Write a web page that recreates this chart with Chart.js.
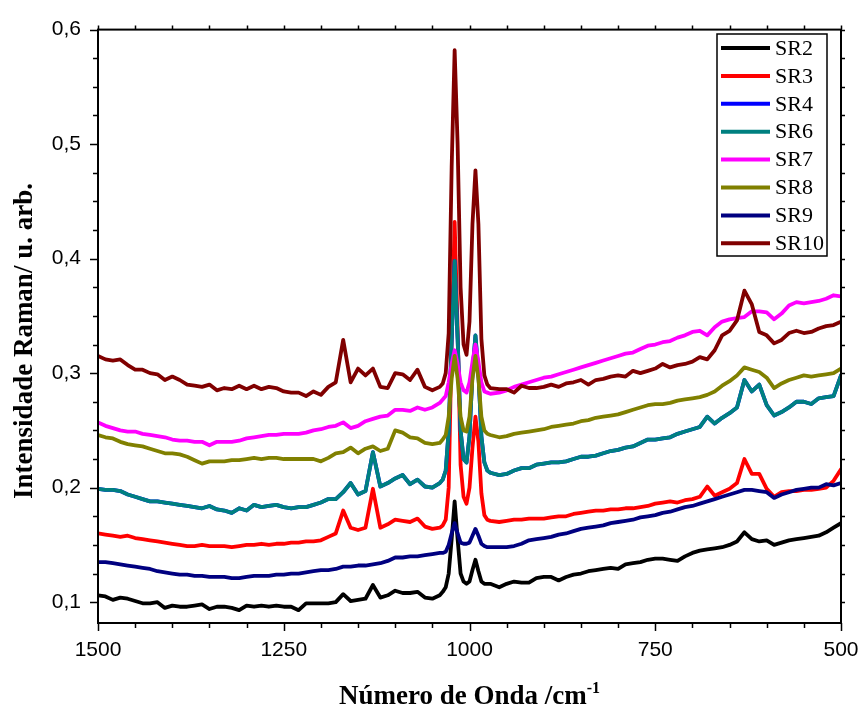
<!DOCTYPE html>
<html>
<head>
<meta charset="utf-8">
<script src="https://cdn.jsdelivr.net/npm/chart.js@4.4.1/dist/chart.umd.min.js"></script>
<style>
  html, body { margin: 0; padding: 0; background: #fff; }
</style>
</head>
<body>
<canvas id="ramanChart" width="861" height="713"></canvas>
<script>
// Raman shift axis (cm-1), finer step around the 1020 / 992 bands
const wavenumbers = [
  1500, 1490, 1480, 1470, 1460, 1450, 1440, 1430, 1420, 1410,
  1400, 1390, 1380, 1370, 1360, 1350, 1340, 1330, 1320, 1310,
  1300, 1290, 1280, 1270, 1260, 1250, 1240, 1230, 1220, 1210,
  1200, 1190, 1180, 1170, 1160, 1150, 1140, 1130, 1120, 1110,
  1100, 1090, 1080, 1070, 1060, 1050, 1040,
  1036, 1032, 1028, 1024, 1020, 1016, 1012, 1008, 1004, 1000, 996, 992, 988, 984, 980, 976, 972,
  960, 950, 940, 930, 920, 910, 900, 890, 880, 870,
  860, 850, 840, 830, 820, 810, 800, 790, 780, 770,
  760, 750, 740, 730, 720, 710, 700, 690, 680, 670,
  660, 650, 640, 630, 620, 610, 600, 590, 580, 570,
  560, 550, 540, 530, 520, 510, 500
];

const sr2 = [
  0.106, 0.105, 0.102, 0.104, 0.103, 0.101, 0.099, 0.099, 0.100, 0.095,
  0.097, 0.096, 0.096, 0.097, 0.098, 0.094, 0.096, 0.096, 0.095, 0.093,
  0.097, 0.096, 0.097, 0.096, 0.097, 0.096, 0.096, 0.093, 0.099, 0.099,
  0.099, 0.099, 0.100, 0.107, 0.101, 0.102, 0.103, 0.115, 0.104, 0.106,
  0.110, 0.108, 0.108, 0.109, 0.104, 0.103, 0.106,
  0.109, 0.113, 0.125, 0.155, 0.188, 0.155, 0.125, 0.118, 0.116, 0.118, 0.128, 0.137, 0.127, 0.118, 0.116, 0.116, 0.116,
  0.113, 0.116, 0.118, 0.117, 0.117, 0.121, 0.122, 0.122, 0.119, 0.122,
  0.124, 0.125, 0.127, 0.128, 0.129, 0.130, 0.129, 0.133, 0.134, 0.135,
  0.137, 0.138, 0.138, 0.137, 0.136, 0.140, 0.143, 0.145, 0.146, 0.147,
  0.148, 0.150, 0.153, 0.161, 0.155, 0.153, 0.154, 0.150, 0.152, 0.154,
  0.155, 0.156, 0.157, 0.158, 0.161, 0.165, 0.169
];

const sr3 = [
  0.160, 0.159, 0.158, 0.157, 0.158, 0.156, 0.155, 0.154, 0.153, 0.152,
  0.151, 0.150, 0.149, 0.149, 0.150, 0.149, 0.149, 0.149, 0.148, 0.149,
  0.150, 0.150, 0.151, 0.150, 0.151, 0.151, 0.152, 0.152, 0.153, 0.153,
  0.154, 0.157, 0.160, 0.180, 0.165, 0.163, 0.165, 0.199, 0.165, 0.168,
  0.172, 0.171, 0.170, 0.173, 0.166, 0.164, 0.165,
  0.167, 0.172, 0.200, 0.330, 0.432, 0.340, 0.220, 0.192, 0.186, 0.200, 0.235, 0.262, 0.240, 0.195, 0.176, 0.172, 0.171,
  0.170, 0.171, 0.172, 0.172, 0.173, 0.173, 0.173, 0.174, 0.175, 0.175,
  0.177, 0.178, 0.179, 0.180, 0.180, 0.181, 0.181, 0.182, 0.182, 0.183,
  0.184, 0.186, 0.187, 0.188, 0.187, 0.189, 0.190, 0.192, 0.201, 0.193,
  0.196, 0.199, 0.204, 0.225, 0.212, 0.212, 0.199, 0.192, 0.196, 0.197,
  0.197, 0.198, 0.198, 0.199, 0.200, 0.206, 0.216
];

// SR4 runs underneath SR6 over the whole range
const sr4 = [
  0.199, 0.198, 0.198, 0.197, 0.194, 0.192, 0.190, 0.188, 0.188, 0.187,
  0.186, 0.185, 0.184, 0.183, 0.182, 0.184, 0.181, 0.180, 0.178, 0.182,
  0.180, 0.185, 0.183, 0.184, 0.185, 0.183, 0.182, 0.183, 0.183, 0.185,
  0.187, 0.190, 0.190, 0.196, 0.204, 0.194, 0.197, 0.231, 0.201, 0.204,
  0.208, 0.211, 0.203, 0.207, 0.201, 0.200, 0.204,
  0.207, 0.215, 0.250, 0.330, 0.398, 0.330, 0.250, 0.225, 0.222, 0.245, 0.300, 0.333, 0.300, 0.245, 0.222, 0.215, 0.213,
  0.211, 0.212, 0.215, 0.217, 0.217, 0.220, 0.221, 0.222, 0.222, 0.223,
  0.225, 0.227, 0.227, 0.228, 0.230, 0.232, 0.233, 0.235, 0.236, 0.239,
  0.242, 0.242, 0.243, 0.244, 0.247, 0.249, 0.251, 0.253, 0.262, 0.256,
  0.261, 0.265, 0.270, 0.294, 0.284, 0.290, 0.272, 0.263, 0.266, 0.270,
  0.275, 0.275, 0.273, 0.278, 0.279, 0.280, 0.298
];

const sr6 = [
  0.199, 0.198, 0.198, 0.197, 0.194, 0.192, 0.190, 0.188, 0.188, 0.187,
  0.186, 0.185, 0.184, 0.183, 0.182, 0.184, 0.181, 0.180, 0.178, 0.182,
  0.180, 0.185, 0.183, 0.184, 0.185, 0.183, 0.182, 0.183, 0.183, 0.185,
  0.187, 0.190, 0.190, 0.196, 0.204, 0.194, 0.197, 0.231, 0.201, 0.204,
  0.208, 0.211, 0.203, 0.207, 0.201, 0.200, 0.204,
  0.207, 0.215, 0.250, 0.330, 0.398, 0.330, 0.250, 0.225, 0.222, 0.245, 0.300, 0.333, 0.300, 0.245, 0.222, 0.215, 0.213,
  0.211, 0.212, 0.215, 0.217, 0.217, 0.220, 0.221, 0.222, 0.222, 0.223,
  0.225, 0.227, 0.227, 0.228, 0.230, 0.232, 0.233, 0.235, 0.236, 0.239,
  0.242, 0.242, 0.243, 0.244, 0.247, 0.249, 0.251, 0.253, 0.262, 0.256,
  0.261, 0.265, 0.270, 0.294, 0.284, 0.290, 0.272, 0.263, 0.266, 0.270,
  0.275, 0.275, 0.273, 0.278, 0.279, 0.280, 0.298
];

const sr7 = [
  0.257, 0.254, 0.252, 0.250, 0.249, 0.249, 0.247, 0.246, 0.245, 0.244,
  0.242, 0.241, 0.241, 0.240, 0.240, 0.237, 0.240, 0.240, 0.240, 0.241,
  0.243, 0.244, 0.245, 0.246, 0.246, 0.247, 0.247, 0.247, 0.248, 0.250,
  0.251, 0.253, 0.254, 0.257, 0.252, 0.254, 0.258, 0.260, 0.262, 0.263,
  0.268, 0.268, 0.267, 0.270, 0.268, 0.270, 0.274,
  0.277, 0.280, 0.292, 0.308, 0.320, 0.308, 0.292, 0.285, 0.283, 0.292, 0.310, 0.325, 0.310, 0.292, 0.284, 0.283, 0.282,
  0.283, 0.285, 0.288, 0.290, 0.292, 0.294, 0.296, 0.297, 0.299, 0.301,
  0.303, 0.305, 0.307, 0.309, 0.311, 0.313, 0.315, 0.317, 0.318, 0.321,
  0.324, 0.325, 0.327, 0.328, 0.331, 0.333, 0.336, 0.337, 0.333, 0.340,
  0.345, 0.347, 0.348, 0.349, 0.354, 0.354, 0.353, 0.347, 0.352, 0.359,
  0.362, 0.361, 0.362, 0.363, 0.365, 0.368, 0.367
];

const sr8 = [
  0.246, 0.244, 0.243, 0.240, 0.238, 0.237, 0.236, 0.234, 0.232, 0.230,
  0.230, 0.229, 0.227, 0.224, 0.221, 0.223, 0.223, 0.223, 0.224, 0.224,
  0.225, 0.226, 0.225, 0.226, 0.226, 0.225, 0.225, 0.225, 0.225, 0.225,
  0.223, 0.226, 0.230, 0.231, 0.235, 0.230, 0.234, 0.236, 0.232, 0.234,
  0.250, 0.248, 0.244, 0.243, 0.239, 0.238, 0.239,
  0.242, 0.246, 0.262, 0.295, 0.315, 0.295, 0.262, 0.250, 0.249, 0.262, 0.295, 0.315, 0.295, 0.262, 0.250, 0.247, 0.246,
  0.244, 0.245, 0.247, 0.248, 0.249, 0.250, 0.251, 0.253, 0.254, 0.255,
  0.256, 0.258, 0.259, 0.261, 0.262, 0.263, 0.264, 0.266, 0.268, 0.270,
  0.272, 0.273, 0.273, 0.274, 0.276, 0.277, 0.278, 0.279, 0.281, 0.284,
  0.289, 0.293, 0.298, 0.305, 0.303, 0.301, 0.296, 0.287, 0.291, 0.294,
  0.296, 0.298, 0.297, 0.298, 0.299, 0.300, 0.304
];

const sr9 = [
  0.135, 0.135, 0.134, 0.133, 0.132, 0.131, 0.130, 0.129, 0.127, 0.126,
  0.125, 0.124, 0.124, 0.123, 0.123, 0.122, 0.122, 0.122, 0.121, 0.121,
  0.122, 0.123, 0.123, 0.123, 0.124, 0.124, 0.125, 0.125, 0.126, 0.127,
  0.128, 0.128, 0.129, 0.131, 0.131, 0.132, 0.132, 0.133, 0.134, 0.136,
  0.139, 0.139, 0.140, 0.140, 0.141, 0.142, 0.143,
  0.143, 0.144, 0.150, 0.160, 0.169, 0.160, 0.152, 0.151, 0.151, 0.152, 0.158, 0.164, 0.158, 0.151, 0.149, 0.148, 0.148,
  0.148, 0.148, 0.149, 0.151, 0.154, 0.155, 0.156, 0.157, 0.159, 0.160,
  0.162, 0.164, 0.165, 0.166, 0.167, 0.169, 0.170, 0.171, 0.172, 0.174,
  0.175, 0.176, 0.178, 0.179, 0.181, 0.183, 0.184, 0.186, 0.188, 0.190,
  0.192, 0.194, 0.196, 0.198, 0.198, 0.197, 0.196, 0.191, 0.194, 0.196,
  0.198, 0.199, 0.200, 0.200, 0.203, 0.202, 0.204
];

const sr10 = [
  0.315, 0.312, 0.311, 0.312, 0.307, 0.303, 0.303, 0.300, 0.299, 0.294,
  0.297, 0.294, 0.290, 0.289, 0.288, 0.290, 0.285, 0.287, 0.286, 0.289,
  0.286, 0.289, 0.286, 0.288, 0.287, 0.284, 0.283, 0.283, 0.280, 0.284,
  0.281, 0.288, 0.292, 0.329, 0.292, 0.304, 0.298, 0.304, 0.288, 0.287,
  0.300, 0.299, 0.294, 0.303, 0.288, 0.285, 0.288,
  0.291, 0.300, 0.335, 0.480, 0.582, 0.500, 0.375, 0.325, 0.316, 0.345, 0.430, 0.477, 0.430, 0.330, 0.298, 0.290, 0.287,
  0.286, 0.286, 0.283, 0.289, 0.287, 0.287, 0.288, 0.290, 0.288, 0.291,
  0.292, 0.294, 0.290, 0.294, 0.295, 0.297, 0.298, 0.297, 0.302, 0.300,
  0.302, 0.304, 0.308, 0.305, 0.307, 0.308, 0.310, 0.314, 0.312, 0.320,
  0.333, 0.337, 0.346, 0.372, 0.360, 0.336, 0.333, 0.326, 0.329, 0.335,
  0.337, 0.335, 0.336, 0.339, 0.341, 0.342, 0.345
];

const seriesNames = ['SR2', 'SR3', 'SR4', 'SR6', 'SR7', 'SR8', 'SR9', 'SR10'];
const seriesColors = ['#000000', '#ff0000', '#0000ff', '#008080', '#ff00ff', '#808000', '#000080', '#800000'];
const seriesValues = [sr2, sr3, sr4, sr6, sr7, sr8, sr9, sr10];

const xTicks = [1500, 1250, 1000, 750, 500];
const yTicks = [0.1, 0.2, 0.3, 0.4, 0.5, 0.6];

const datasets = seriesNames.map((name, i) => ({
  label: name,
  data: wavenumbers.map((w, k) => ({ x: w, y: seriesValues[i][k] })),
  borderColor: seriesColors[i],
  backgroundColor: seriesColors[i],
  borderWidth: 3.8,
  borderJoinStyle: 'round',
  borderCapStyle: 'round',
  pointRadius: 0,
  tension: 0,
  order: seriesNames.length - 1 - i // last series ends up on top
}));

// frame, minor ticks, legend box and axis titles
const decorations = {
  id: 'decorations',
  afterDraw(chart) {
    const { ctx, chartArea: a, scales: { x, y } } = chart;
    ctx.save();
    ctx.strokeStyle = '#000';
    ctx.lineWidth = 2;
    ctx.strokeRect(a.left, a.top, a.right - a.left, a.bottom - a.top);

    ctx.lineWidth = 1.5;
    ctx.beginPath();
    for (let v = 500; v <= 1500; v += 50) {
      const px = Math.round(x.getPixelForValue(v)) + 0.5;
      const len = v % 250 === 0 ? 8 : 5;
      ctx.moveTo(px, a.bottom); ctx.lineTo(px, a.bottom + len);
      ctx.moveTo(px, a.top); ctx.lineTo(px, a.top - 4);
    }
    for (let k = 0; k <= 20; k++) {
      const py = Math.round(y.getPixelForValue(0.1 + k * 0.025)) + 0.5;
      const len = k % 4 === 0 ? 8 : 5;
      ctx.moveTo(a.left, py); ctx.lineTo(a.left - len, py);
      ctx.moveTo(a.right, py); ctx.lineTo(a.right + 4, py);
    }
    ctx.stroke();

    // legend
    const lx = 717, ly = 34, lw = 110, lh = 222;
    ctx.fillStyle = '#fff';
    ctx.fillRect(lx, ly, lw, lh);
    ctx.lineWidth = 1.5;
    ctx.strokeRect(lx, ly, lw, lh);
    ctx.font = '22px "Liberation Serif", "Times New Roman", serif';
    ctx.textBaseline = 'middle';
    ctx.textAlign = 'left';
    chart.data.datasets.forEach((ds, i) => {
      const ry = 48 + i * 27.9;
      ctx.strokeStyle = ds.borderColor;
      ctx.lineWidth = 4;
      ctx.beginPath();
      ctx.moveTo(721, ry);
      ctx.lineTo(770, ry);
      ctx.stroke();
      ctx.fillStyle = '#000';
      ctx.fillText(ds.label, 775, ry + 1);
    });

    // y axis title
    ctx.fillStyle = '#000';
    ctx.font = 'bold 27px "Liberation Serif", "Times New Roman", serif';
    ctx.save();
    ctx.translate(32, 341);
    ctx.rotate(-Math.PI / 2);
    ctx.textAlign = 'center';
    ctx.textBaseline = 'alphabetic';
    ctx.fillText('Intensidade Raman/ u. arb.', 0, 0);
    ctx.restore();

    // x axis title with superscript
    const main = 'Número de Onda /cm';
    const sup = '-1';
    ctx.textBaseline = 'alphabetic';
    ctx.textAlign = 'left';
    const w1 = ctx.measureText(main).width;
    ctx.font = 'bold 16px "Liberation Serif", "Times New Roman", serif';
    const w2 = ctx.measureText(sup).width;
    const sx = (a.left + a.right) / 2 - (w1 + w2) / 2;
    ctx.fillText(sup, sx + w1, 693);
    ctx.font = 'bold 27px "Liberation Serif", "Times New Roman", serif';
    ctx.fillText(main, sx, 704);
    ctx.restore();
  }
};

const ctxRaman = document.getElementById('ramanChart').getContext('2d');
const ramanChart = new Chart(ctxRaman, {
  type: 'line',
  data: { datasets },
  options: {
    responsive: false,
    animation: false,
    devicePixelRatio: 1,
    layout: { padding: { top: 24, right: 20, left: 0, bottom: 0 } },
    plugins: {
      legend: { display: false },
      tooltip: { enabled: false }
    },
    scales: {
      x: {
        type: 'linear',
        reverse: true,
        min: 500,
        max: 1500,
        afterBuildTicks: s => { s.ticks = xTicks.map(v => ({ value: v })); },
        afterFit: s => { s.height = 90; s.paddingLeft = 0; s.paddingRight = 0; },
        grid: { display: false, drawTicks: false },
        border: { display: false },
        ticks: {
          color: '#000',
          padding: 15,
          maxRotation: 0,
          autoSkip: false,
          callback: v => String(v),
          font: { family: '"Liberation Sans", Arial, sans-serif', size: 21 }
        }
      },
      y: {
        min: 0.0818,
        max: 0.6,
        afterBuildTicks: s => { s.ticks = yTicks.map(v => ({ value: v })); },
        afterFit: s => { s.width = 98; },
        grid: { display: false, drawTicks: false },
        border: { display: false },
        ticks: {
          color: '#000',
          padding: 17,
          callback: v => v.toFixed(1).replace('.', ','),
          font: { family: '"Liberation Sans", Arial, sans-serif', size: 21 }
        }
      }
    }
  },
  plugins: [decorations]
});
</script>
</body>
</html>
